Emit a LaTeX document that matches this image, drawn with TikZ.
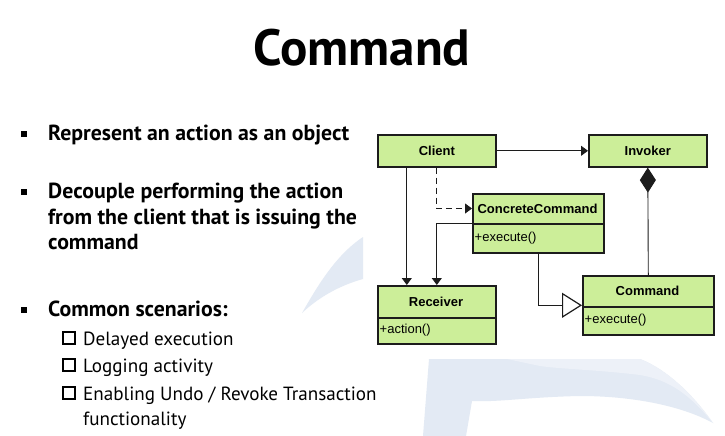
\documentclass[tikz,border=0pt]{standalone}
\usepackage{fontspec}
\setmainfont{PT Sans}
\newfontfamily\umlfont{Liberation Sans}
\usetikzlibrary{arrows.meta,calc}
\definecolor{umlgreen}{RGB}{204,238,153}
\definecolor{umlline}{RGB}{28,28,28}
\definecolor{swoosh}{RGB}{227,234,244}
\definecolor{swooshlight}{RGB}{237,241,248}
\begin{document}
\begin{tikzpicture}[x=1pt,y=-1pt,
  classbox/.style={draw=umlline, line width=1.6pt, fill=umlgreen, inner sep=0pt, anchor=north west},
  classname/.style={font=\umlfont\bfseries\fontsize{13}{15}\selectfont, inner sep=0pt},
  member/.style={font=\umlfont\fontsize{13}{15}\selectfont, inner sep=0pt, anchor=west},
  divider/.style={draw=umlline, line width=1.3pt},
  link/.style={draw=umlline, line width=0.9pt},
  solidhead/.style={-{Triangle[width=10pt,length=7pt]}},
  inherit/.style={-{Triangle[width=25pt,length=20pt,fill=white,line width=1.2pt]}},
  owner/.style={-{Diamond[width=16pt,length=25pt]}},
  slidetitle/.style={font=\bfseries\fontsize{51}{55}\selectfont, inner sep=0pt},
  point/.style={font=\bfseries\fontsize{21.8}{26}\selectfont, inner sep=0pt, anchor=base west},
  subpoint/.style={font=\fontsize{19.1}{24}\selectfont, inner sep=0pt, anchor=base west},
  bulletsq/.style={fill=black, minimum size=6pt, inner sep=0pt},
  checkbox/.style={draw=black, line width=1.7pt, minimum size=12pt, inner sep=0pt}
]
\fill[white] (0,0) rectangle (725,436);
\useasboundingbox (0,0) rectangle (725,436);

% faint swoosh emblem in the background
\fill[swoosh] (302,313) .. controls (318,285) and (336,255) .. (363,237)
  -- (363,279) .. controls (338,286) and (318,298) .. cycle;
\fill[swoosh] (429,359) -- (640,359) .. controls (668,370) and (694,396) .. (713,423)
  .. controls (680,405) and (630,396) .. (580,396)
  .. controls (530,397) and (500,402) .. (477,401)
  -- (472,401) -- (466,436) -- (423,436) -- cycle;
\fill[swooshlight] (507,359) -- (640,359) .. controls (668,370) and (694,396) .. (713,423)
  .. controls (690,395) and (670,380) .. (640,375)
  .. controls (600,370) and (560,369) .. (540,366) -- cycle;

% slide title
\node[slidetitle, anchor=base] (title) at (362,66) {Command};

% bullet list
\node[bulletsq] (sq1) at (24,134) {};
\node[point] (p1) at (48,140) {Represent an action as an object};
\node[bulletsq] (sq2) at (24,192) {};
\node[point] (p2a) at (48,198) {Decouple performing the action};
\node[point] (p2b) at (48,224) {from the client that is issuing the};
\node[point] (p2c) at (48,249.5) {command};
\node[bulletsq] (sq3) at (24,310) {};
\node[point] (p3) at (48,316) {Common scenarios:};

\node[checkbox] (c1) at (69,338) {};
\node[subpoint] (s1) at (83,345) {Delayed execution};
\node[checkbox] (c2) at (69,365) {};
\node[subpoint] (s2) at (83,372) {Logging activity};
\node[checkbox] (c3) at (69,393) {};
\node[subpoint] (s3) at (83,400) {Enabling Undo / Revoke Transaction};
\node[subpoint] (s3b) at (83,425) {functionality};

% class boxes
\node[classbox, minimum width=118pt, minimum height=32pt] (client) at (377,134) {};
\node[classname] at (client.center) {Client};
\node[classbox, minimum width=118pt, minimum height=32pt] (invoker) at (588,134) {};
\node[classname] at (invoker.center) {Invoker};

\node[classbox, minimum width=131pt, minimum height=59pt] (concrete) at (472,193) {};
\draw[divider] (472,224) -- (603,224);
\node[classname] (concname) at (537.5,208.5) {ConcreteCommand};
\node[member] at (474.5,238) {+execute()};

\node[classbox, minimum width=118pt, minimum height=58pt] (receiver) at (377,285) {};
\draw[divider] (377,318) -- (495,318);
\node[classname] at (436,301.5) {Receiver};
\node[member] at (379.5,330) {+action()};

\node[classbox, minimum width=131pt, minimum height=59pt] (command) at (582,275) {};
\draw[divider] (582,307) -- (713,307);
\node[classname] at (647.5,291) {Command};
\node[member] at (584.5,320) {+execute()};

% relations
\draw[link, solidhead] (client.east) -- (invoker.west);
\draw[link, solidhead] ([xshift=-30pt]client.south) -- ([xshift=-30pt]receiver.north);
\draw[link, solidhead, dashed, dash pattern=on 6pt off 4pt] (client.south) |- (concrete.west |- concname);
\draw[link, solidhead] (concrete.west) -| (receiver.north);
\draw[link, inherit] (concrete.south) |- (command.west);
\draw[link, owner] (command.north) -- (invoker.south);
\end{tikzpicture}
\end{document}
